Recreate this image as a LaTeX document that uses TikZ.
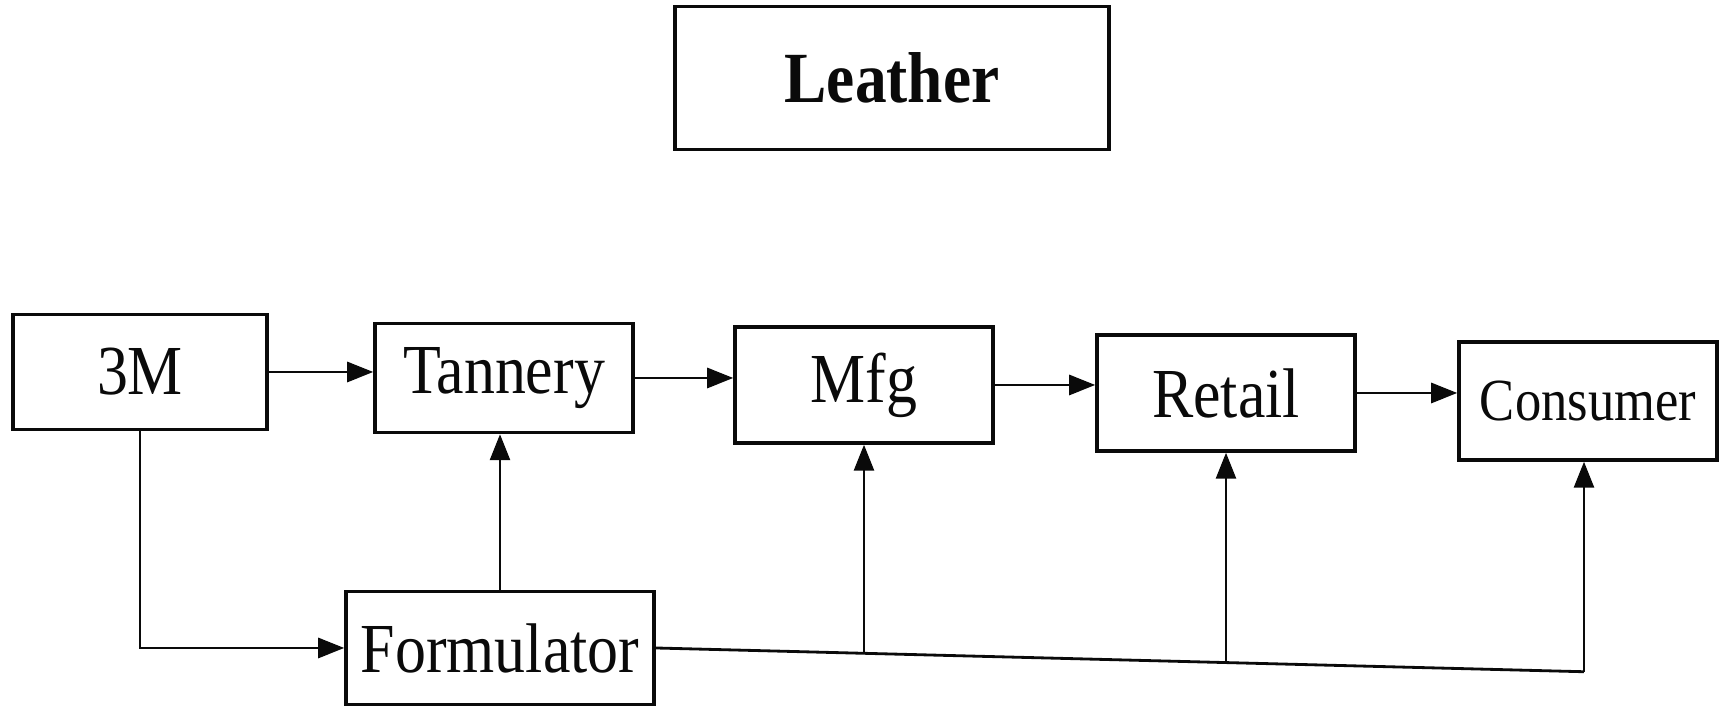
\documentclass[tikz,border=0pt]{standalone}
\usepackage{fontspec}
\setmainfont{Liberation Serif}[FakeStretch=0.88]
\usetikzlibrary{arrows.meta,positioning,calc}
\definecolor{ink}{RGB}{10,10,10}
\tikzset{
  >={Triangle[length=2.6mm,width=2.0mm]},
  box/.style={draw=ink,line width=1pt,minimum width=2.58cm,minimum height=1.14cm,
    inner sep=0pt,align=center,text=ink,font=\fontsize{20}{24}\selectfont},
  title box/.style={box,minimum width=4.34cm,minimum height=1.43cm,
    font=\fontsize{20.5}{24}\selectfont\bfseries},
  flow/.style={->,line width=0.8pt,draw=ink},
  wire/.style={line width=0.8pt,draw=ink},
}

\begin{document}
\begin{tikzpicture}
  \useasboundingbox (0,0) rectangle (17.19,7.11);
  % title
  \node[title box] (leather) at (8.92,6.33) {Leather};
  % chain
  \node[box,minimum width=2.54cm,minimum height=1.15cm] (m3) at (1.40,3.39) {3M};
  \node[box,minimum height=1.09cm] (tann) at (5.04,3.33) {Tannery};
  \node[box,minimum height=1.16cm] (mfg) at (8.64,3.26) {Mfg};
  \node[box,minimum height=1.16cm] (retail) at (12.26,3.18) {Retail};
  \node[box,minimum height=1.18cm,font=\fontsize{17}{20}\selectfont] (cons) at (15.88,3.10) {Consumer};
  \node[box,minimum width=3.08cm,minimum height=1.13cm] (form) at (5.00,0.63) {Formulator};
  % arrows along the chain
  \draw[flow] (m3.east) -- (m3.east -| tann.west);
  \draw[flow] (tann.east) -- (tann.east -| mfg.west);
  \draw[flow] (mfg.east) -- (mfg.east -| retail.west);
  \draw[flow] (retail.east) -- (retail.east -| cons.west);
  % formulator feed
  \draw[flow] (m3.south) |- (form.west);
  \draw[flow] (form.north) -- (form.north |- tann.south);
  \coordinate (busend) at ($(cons.south)+(-0.04,-2.10)$);
  \coordinate (tapm) at ($(form.east)!(mfg.south)!(busend)$);
  \coordinate (tapr) at ($(form.east)!(retail.south)!(busend)$);
  \draw[wire] (form.east) -- (busend);
  \draw[flow] (busend) -- (busend |- cons.south);
  \draw[flow] (mfg.south |- tapm) -- (mfg.south);
  \draw[flow] (retail.south |- tapr) -- (retail.south);
\end{tikzpicture}
\end{document}
